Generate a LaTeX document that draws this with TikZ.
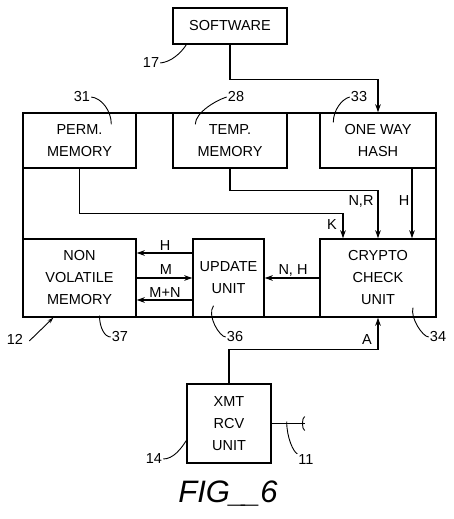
\documentclass[tikz,border=0pt]{standalone}
\usepackage{fontspec}
\setmainfont{Liberation Sans}
\usetikzlibrary{arrows.meta}

\begin{document}
\begin{tikzpicture}[x=1pt,y=-1pt,
        box/.style={rectangle,draw,line width=1.4pt,inner sep=0pt,align=center,
            font=\fontsize{14.5}{22}\selectfont},
        wire/.style={line width=1.2pt},
        arr/.style={wire,-{Stealth[length=8pt,width=5.5pt]}},
        lbl/.style={font=\fontsize{14.5}{16}\selectfont,inner sep=1pt},
        lead/.style={line width=0.9pt}]
    \useasboundingbox (0,0) rectangle (454,519);

    % Outer unit 12
    \node[box,minimum width=413pt,minimum height=204pt] (unit) at (229.5,215) {};

    % Blocks
    \node[box,minimum width=114pt,minimum height=36pt] (sw) at (230,26) {SOFTWARE};
    \node[box,minimum width=113pt,minimum height=55pt] (perm) at (79.5,140.5) {PERM.\\MEMORY};
    \node[box,minimum width=114pt,minimum height=55pt] (temp) at (230,140.5) {TEMP.\\MEMORY};
    \node[box,minimum width=116pt,minimum height=55pt] (hash) at (378,140.5) {ONE WAY\\HASH};
    \node[box,minimum width=113pt,minimum height=78pt] (nvm) at (79.5,278) {NON\\VOLATILE\\MEMORY};
    \node[box,minimum width=71pt,minimum height=78pt] (upd) at (228.5,278) {UPDATE\\UNIT};
    \node[box,minimum width=116pt,minimum height=78pt] (crypto) at (378,278) {CRYPTO\\CHECK\\UNIT};
    \node[box,minimum width=84pt,minimum height=79pt] (xmt) at (229,423.5) {XMT\\RCV\\UNIT};

    % Connectors
    \draw[arr] (sw.south) -- ++(0,35) -| (hash.north);
    \draw[arr] (perm.south) -- ++(0,45) -| ([xshift=-35pt]crypto.north);
    \draw[arr] (temp.south) -- ++(0,22) -| (crypto.north);
    \draw[arr] ([xshift=34pt]hash.south) -- ([xshift=34pt]crypto.north);
    \draw[arr] ([yshift=25pt]upd.west) -- ([yshift=25pt]nvm.east);
    \draw[arr] (nvm.east) -- (upd.west);
    \draw[arr] ([yshift=-22pt]upd.west) -- ([yshift=-22pt]nvm.east);
    \draw[arr] (crypto.west) -- (upd.east);
    \draw[arr] (xmt.north) -- ++(0,-34) -| (crypto.south);
    \draw[wire] (xmt.east) -- ++(33,0) coordinate (ant);
    \draw[lead] ([yshift=7pt]ant) .. controls +(-3,1) and +(-3,-1) .. ([yshift=-7pt]ant);

    % Signal labels
    \node[lbl] (kk) at (332,225) {K};
    \node[lbl] (nr) at (361,201) {N,R};
    \node[lbl] (hh) at (404,201) {H};
    \node[lbl] (uh) at (165,246) {H};
    \node[lbl] (um) at (166,270) {M};
    \node[lbl] (umn) at (165,293) {M+N};
    \node[lbl] (cnh) at (293,270) {N, H};
    \node[lbl] (aa) at (367,340) {A};

    % Reference numerals
    \node[lbl] (n17) at (151,63) {17};
    \node[lbl] (n31) at (82,97) {31};
    \node[lbl] (n28) at (236,97) {28};
    \node[lbl] (n33) at (359,97) {33};
    \node[lbl] (n12) at (15,339) {12};
    \node[lbl] (n37) at (120,337) {37};
    \node[lbl] (n36) at (235,337) {36};
    \node[lbl] (n34) at (438,337) {34};
    \node[lbl] (n14) at (154,459) {14};
    \node[lbl] (n11) at (306,460) {11};

    \draw[lead] (n17.east) .. controls +(11,-1) and +(-5,8) .. ([xshift=14pt]sw.south west);
    \draw[lead] (n31.east) .. controls +(10,1) and +(0,-14) .. ([xshift=89pt,yshift=-12pt]perm.north west);
    \draw[lead] (n28.west) .. controls +(-10,3) and +(0,-12) .. ([xshift=23pt,yshift=-12pt]temp.north west);
    \draw[lead] (n33.west) .. controls +(-8,2) and +(0,-12) .. ([xshift=14pt,yshift=-10pt]hash.north west);
    \draw[lead] ([xshift=20pt,yshift=2pt]nvm.south) .. controls +(0,12) and +(-6,0) .. (n37.west);
    \draw[lead] ([xshift=-15pt,yshift=12pt]upd.south) .. controls +(-7,10) and +(-6,0) .. (n36.west);
    \draw[lead] ([xshift=35pt,yshift=10pt]crypto.south) .. controls +(-3,10) and +(-6,0) .. (n34.west);
    \draw[lead] (n14.east) .. controls +(10,0) and +(-5,8) .. ([yshift=-17pt]xmt.west);
    \draw[lead] ([xshift=-18pt,yshift=2pt]ant) .. controls +(0,16) and +(-4,-2) .. (n11.north west);
    \draw[lead,-{Stealth[length=6pt,width=4pt]}] (n12.east) ++(5,2) -- ([xshift=31pt]unit.south west);

    % Figure title
    \node[font=\fontsize{31}{34}\selectfont\itshape] (fig) at (228,494) {FIG\_\kern-4pt\_6};
\end{tikzpicture}
\end{document}
